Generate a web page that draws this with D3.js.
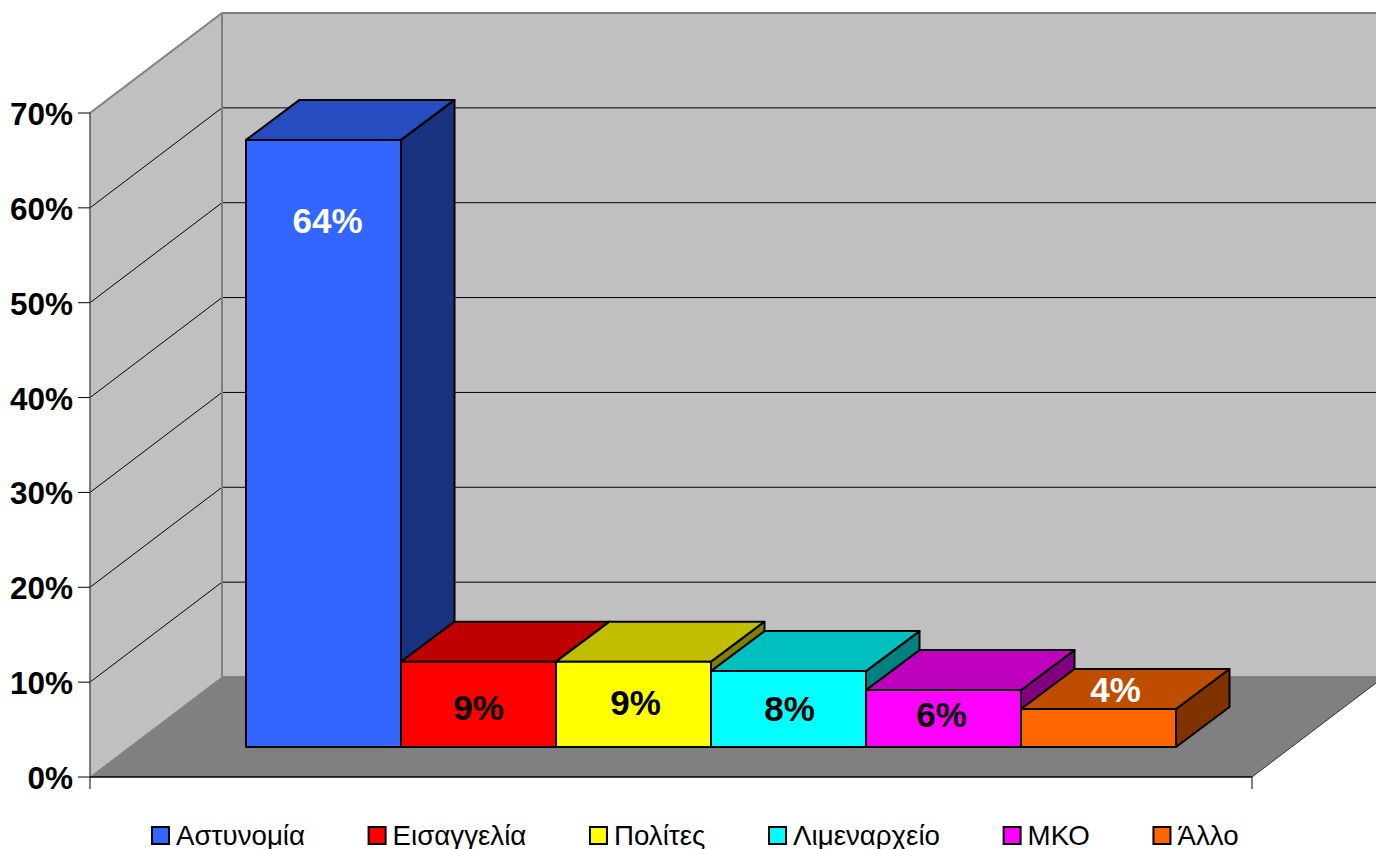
<!DOCTYPE html>
<html><head><meta charset="utf-8">
<script src="https://cdn.jsdelivr.net/npm/d3@7"></script>
<style>html,body{margin:0;padding:0;background:#fff;overflow:hidden}svg{display:block}text{font-family:"Liberation Sans",Arial,sans-serif}</style>
</head><body><svg id="c" width="1376" height="849"></svg>
<script>
const categories = ["Αστυνομία","Εισαγγελία","Πολίτες","Λιμεναρχείο","ΜΚΟ","Άλλο"];
const values = [64,9,9,8,6,4];
const colors = ["#3366FF","#FF0000","#FFFF00","#00FFFF","#FF00FF","#FF6600"];
const ticks = [0,10,20,30,40,50,60,70];
const labelColors = ["#fff","#000","#000","#000","#000","#fff"];
const labelDx = [4,0,2,1,-2,17];
const labelDy = [-222,4,-1,0,-4,-38];

(function(){
const svg = d3.select("#c");
const W = 1376, depthX = 132, depthY = -100, barDX = 53.5, barDY = -40;
const y0 = d3.scaleLinear().domain([0,70]).range([777,113]);
const x0 = [90,1252];
const yBack = v => y0(v)+depthY;
const yBar = d3.scaleLinear().domain([0,70]).range([747,747-664]);
const x = d3.scaleBand().domain(categories).range([246,1176]);
const line = d3.line();
const poly = (pts,fill,stroke,sw) => svg.append("path").attr("d",line(pts)+"Z").attr("fill",fill).attr("stroke",stroke||"none").attr("stroke-width",sw||0).attr("stroke-linejoin","round");
const seg = (a,b,stroke,sw) => svg.append("line").attr("x1",a[0]).attr("y1",a[1]).attr("x2",b[0]).attr("y2",b[1]).attr("stroke",stroke).attr("stroke-width",sw);

const bx = x0[0]+depthX, wallTop = y0(70)+depthY, wallBot = y0(0)+depthY;
poly([[bx,wallTop],[W+2,wallTop],[W+2,wallBot],[bx,wallBot]],"#C0C0C0");
poly([[x0[0],y0(70)],[bx,wallTop],[bx,wallBot],[x0[0],y0(0)]],"#C0C0C0");
poly([[x0[0],y0(0)],[bx,wallBot],[x0[1]+depthX,wallBot],[x0[1],y0(0)]],"#808080");
ticks.filter(t=>t>0&&t<70).forEach(t=>{
  seg([x0[0],y0(t)],[bx,yBack(t)],"#000",1);
  seg([bx,yBack(t)],[W,yBack(t)],"#000",1);
});
seg([bx,yBack(0)],[W,yBack(0)],"#777",1.5);
seg([bx,yBack(70)],[W,yBack(70)],"#808080",2);
seg([bx,wallTop],[bx,wallBot],"#808080",2);
seg([x0[0],y0(70)],[bx,wallTop],"#808080",2);
seg([x0[0],y0(0)],[bx,wallBot],"#808080",1);
seg([x0[1],y0(0)],[x0[1]+depthX,wallBot],"#333",1);
seg([x0[0],y0(70)],[x0[0],y0(0)+12],"#555",1.5);
seg([x0[0],y0(0)],[x0[1],y0(0)],"#000",1.5);
seg([x0[1],y0(0)],[x0[1],y0(0)+12],"#555",1.5);
ticks.forEach(t=>{
  seg([78,y0(t)],[x0[0],y0(t)],"#000",1);
  svg.append("text").attr("x",73).attr("y",y0(t)+12).attr("text-anchor","end")
    .attr("font-size",31.5).attr("font-weight","bold").attr("fill","#000").text(t+"%");
});
const shade = (c,k) => { const r=d3.rgb(c); return d3.rgb(r.r*k,r.g*k,r.b*k).formatHex(); };
categories.forEach((c,i)=>{
  const l=x(c), r=l+x.bandwidth(), t=yBar(values[i]), b=yBar(0), col=colors[i], sw=2;
  poly([[r,b],[r+barDX,b+barDY],[r+barDX,t+barDY],[r,t]],shade(col,0.5),"#000",sw);
  poly([[l,t],[l+barDX,t+barDY],[r+barDX,t+barDY],[r,t]],shade(col,0.75),"#000",sw);
  poly([[l,t],[r,t],[r,b],[l,b]],col,"#000",sw);
});
categories.forEach((c,i)=>{
  const cx=x(c)+x.bandwidth()/2, t=yBar(values[i]), b=yBar(0);
  svg.append("text").attr("x",cx+labelDx[i]).attr("y",(t+b)/2+12+labelDy[i])
    .attr("text-anchor","middle").attr("font-size",35).attr("font-weight","bold")
    .attr("fill",labelColors[i]).text(values[i]+"%");
});
let lx=152; const ly=827;
categories.forEach((c,i)=>{
  svg.append("rect").attr("x",lx).attr("y",ly).attr("width",17).attr("height",17).attr("fill",colors[i]).attr("stroke","#000").attr("stroke-width",2);
  const tx=svg.append("text").attr("x",lx+24).attr("y",845).attr("font-size",27.7).attr("fill","#000").text(c);
  lx+=24+tx.node().getComputedTextLength()+63.6;
});
})();
</script></body></html>
